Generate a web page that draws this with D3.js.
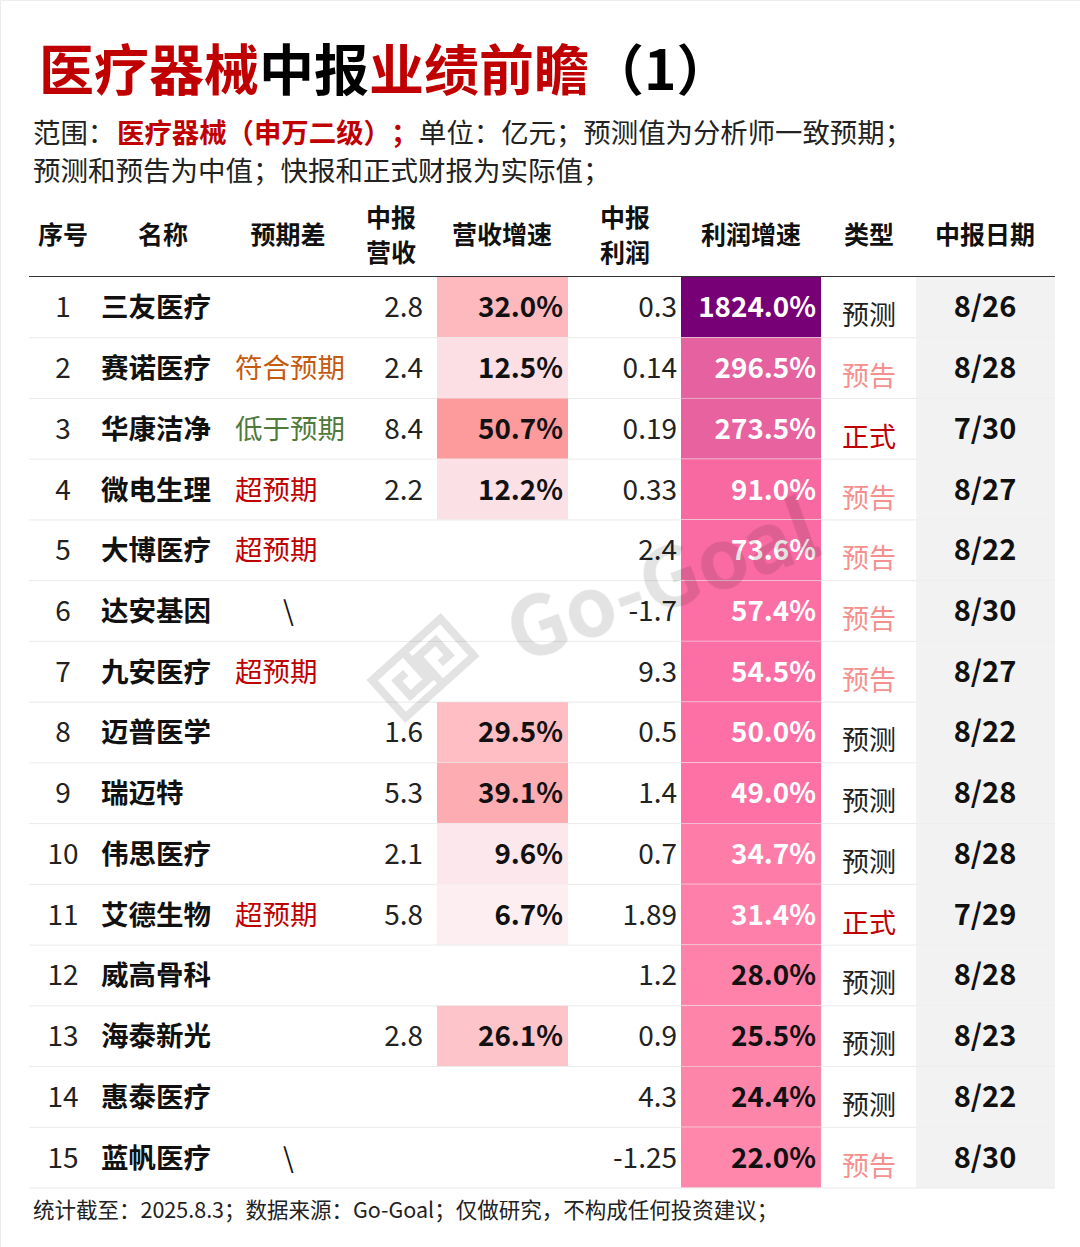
<!DOCTYPE html>
<html>
<head>
<meta charset="utf-8">
<script src="https://cdn.jsdelivr.net/npm/d3@7"></script>
<style>
  html, body { margin: 0; padding: 0; background: #fff; }
  svg { display: block; }
  text { font-family: "Noto Sans CJK SC", "Noto Sans", sans-serif; text-spacing-trim: space-all; font-feature-settings: "chws" 0; }
</style>
</head>
<body>
<div id="chart"></div>
<script>
const names = ["三友医疗", "赛诺医疗", "华康洁净", "微电生理", "大博医疗", "达安基因", "九安医疗", "迈普医学", "瑞迈特", "伟思医疗", "艾德生物", "威高骨科", "海泰新光", "惠泰医疗", "蓝帆医疗"];
const surprise = ["", "符合预期", "低于预期", "超预期", "超预期", "\\", "超预期", "", "", "", "超预期", "", "", "", "\\"];
const revenue = ["2.8", "2.4", "8.4", "2.2", null, null, null, "1.6", "5.3", "2.1", "5.8", null, "2.8", null, null];
const revenueGrowth = [32.0, 12.5, 50.7, 12.2, null, null, null, 29.5, 39.1, 9.6, 6.7, null, 26.1, null, null];
const profit = ["0.3", "0.14", "0.19", "0.33", "2.4", "-1.7", "9.3", "0.5", "1.4", "0.7", "1.89", "1.2", "0.9", "4.3", "-1.25"];
const profitGrowth = [1824.0, 296.5, 273.5, 91.0, 73.6, 57.4, 54.5, 50.0, 49.0, 34.7, 31.4, 28.0, 25.5, 24.4, 22.0];
const reportType = ["预测", "预告", "正式", "预告", "预告", "预告", "预告", "预测", "预测", "预测", "正式", "预测", "预测", "预测", "预告"];
const reportDate = ["8/26", "8/28", "7/30", "8/27", "8/22", "8/30", "8/27", "8/22", "8/28", "8/28", "7/29", "8/28", "8/23", "8/22", "8/30"];

const width = 1080, height = 1247;
const tableLeft = 29, tableRight = 1055, tableTop = 277, tableBottom = 1188;

const svg = d3.select("#chart").append("svg")
    .attr("width", width)
    .attr("height", height);

svg.append("rect").attr("width", width).attr("height", height).attr("fill", "#fff");
svg.append("path").attr("d", `M0.5 ${height}V0.5H${width}`).attr("fill", "none").attr("stroke", "#ececec");

const y = d3.scaleBand().domain(d3.range(names.length)).range([tableTop, tableBottom]);

const revColor = d3.scaleLinear()
    .domain([6.7, 12.5, 32, 50.7])
    .range(["#fdeef2", "#fbdfe5", "#feb9bf", "#fc9a9c"]);
const profitColor = d3.scaleLinear()
    .domain([22, 50, 91, 296.5, 1824])
    .range(["#fe87ab", "#fd70a5", "#f868a1", "#e5619f", "#770077"]);

const surpriseColor = { "符合预期": "#c55a11", "低于预期": "#4f7a3a", "超预期": "#c00000", "\\": "#111" };
const typeColor = { "预测": "#222", "预告": "#f4908e", "正式": "#c00000" };

// title
const title = svg.append("text").attr("x", 39).attr("y", 90)
    .attr("font-size", 55).attr("font-weight", 700);
[["医疗器械", "#c00000"], ["中报", "#000"], ["业绩前瞻", "#c00000"], ["（1）", "#000"]].forEach(d => {
    title.append("tspan").attr("fill", d[1]).text(d[0]);
});

const sub1 = svg.append("text").attr("y", 143).attr("font-size", 27.4).attr("fill", "#222");
sub1.append("tspan").attr("x", 33).text("范围：");
sub1.append("tspan").attr("x", 117).attr("fill", "#c00000").attr("font-weight", 700).text("医疗器械（申万二级）；");
sub1.append("tspan").attr("x", 419).text("单位：亿元；预测值为分析师一致预期；");
svg.append("text").attr("x", 33).attr("y", 181).attr("font-size", 27.5).attr("fill", "#222")
    .text("预测和预告为中值；快报和正式财报为实际值；");

// header
const headers = [
    { x: 63, lines: ["序号"] },
    { x: 163, lines: ["名称"] },
    { x: 288, lines: ["预期差"] },
    { x: 391, lines: ["中报", "营收"] },
    { x: 502, lines: ["营收增速"] },
    { x: 625, lines: ["中报", "利润"] },
    { x: 751, lines: ["利润增速"] },
    { x: 869, lines: ["类型"] },
    { x: 985, lines: ["中报日期"] }
];
headers.forEach(h => {
    h.lines.forEach((line, i) => {
        const cy = h.lines.length === 1 ? 244 : 227 + i * 35;
        svg.append("text").attr("x", h.x).attr("y", cy)
            .attr("text-anchor", "middle")
            .attr("font-size", 25).attr("font-weight", 700).attr("fill", "#111")
            .text(line);
    });
});

// cell backgrounds
const rows = svg.append("g").selectAll("g")
    .data(names)
    .enter().append("g")
    .attr("transform", (d, i) => `translate(0,${y(i)})`);
const h = y.bandwidth();

rows.append("rect").attr("x", 437).attr("width", 131).attr("height", h)
    .attr("fill", (d, i) => revenueGrowth[i] === null ? "none" : revColor(revenueGrowth[i]));
rows.append("rect").attr("x", 681).attr("width", 140).attr("height", h)
    .attr("fill", (d, i) => profitColor(profitGrowth[i]));
rows.append("rect").attr("x", 916).attr("width", 139).attr("height", h).attr("fill", "#f2f2f2");

// row rules
rows.append("line").attr("x1", tableLeft).attr("x2", tableRight).attr("y1", h).attr("y2", h)
    .attr("stroke", "#fff").attr("stroke-width", 1);
rows.append("line").attr("x1", tableLeft).attr("x2", tableRight).attr("y1", h).attr("y2", h)
    .attr("stroke", "#d8d8d8").attr("stroke-opacity", 0.55).attr("stroke-width", 1);
svg.append("line").attr("x1", tableLeft).attr("x2", tableRight).attr("y1", 276.5).attr("y2", 276.5)
    .attr("stroke", "#333").attr("stroke-width", 1.2);

// cell text
function cellText(x, anchor, size, weight, dy) {
    return rows.append("text")
        .attr("x", x)
        .attr("y", h / 2 + dy)
        .attr("text-anchor", anchor)
        .attr("font-size", size)
        .attr("font-weight", weight);
}

cellText(63, "middle", 28, 400, 10).attr("fill", "#222").text((d, i) => i + 1);
cellText(101, "start", 27.5, 700, 10).attr("fill", "#111").text(d => d);
cellText(235, "start", 27.5, 400, 10)
    .attr("fill", (d, i) => surpriseColor[surprise[i]])
    .attr("x", (d, i) => surprise[i] === "\\" ? 283 : 235)
    .text((d, i) => surprise[i]);
cellText(423, "end", 28, 400, 10).attr("fill", "#222").text((d, i) => revenue[i]);
cellText(563, "end", 27.8, 700, 10).attr("fill", "#111")
    .text((d, i) => revenueGrowth[i] === null ? "" : revenueGrowth[i].toFixed(1) + "%");
cellText(677, "end", 28, 400, 10).attr("fill", "#222").text((d, i) => profit[i]);
cellText(816, "end", 27.8, 700, 10)
    .attr("fill", (d, i) => profitGrowth[i] > 30 ? "#fff" : "#111")
    .text((d, i) => profitGrowth[i].toFixed(1) + "%");
cellText(869, "middle", 27, 400, 18)
    .attr("fill", (d, i) => typeColor[reportType[i]])
    .text((d, i) => reportType[i]);
cellText(985, "middle", 29, 700, 10).attr("fill", "#111").text((d, i) => reportDate[i]);

// footer
svg.append("text").attr("x", 33).attr("y", 1218).attr("font-size", 21.5).attr("fill", "#222")
    .text("统计截至：2025.8.3；数据来源：Go-Goal；仅做研究，不构成任何投资建议；");

// watermark
const mark = svg.append("g").attr("opacity", 0.11);
mark.append("text")
    .attr("transform", "translate(520,664) rotate(-20)")
    .attr("font-family", "'Noto Sans', sans-serif")
    .attr("font-size", 82).attr("font-weight", 700)
    .attr("fill", "#000")
    .text("Go-Goal");
const logo = mark.append("g")
    .attr("transform", "translate(423,668) rotate(-42)")
    .attr("fill", "none").attr("stroke", "#000").attr("stroke-width", 8);
logo.append("rect").attr("x", -46).attr("y", -25).attr("width", 92).attr("height", 50);
logo.append("path").attr("d", "M-4 -25V12H-28V-8H-16M4 25V-12H28V8H16");
</script>
</body>
</html>
